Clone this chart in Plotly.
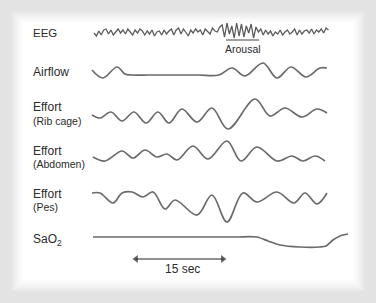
import plotly.graph_objects as go

# ---------------------------------------------------------------
# Polysomnography excerpt: obstructive event terminated by arousal
# time in seconds, amplitudes in arbitrary units (positive = up)
# ---------------------------------------------------------------

# EEG: evenly sampled
eeg_t0 = 0.16
eeg_dt = 0.39
eeg_amp = [0, -3, 2, -2, 3, 4, -1, 3, -2, 1, 4, 0, 3, -1, 4, 1, -2, 3, 0, 4,
           2, -2, 2, -1, 3, -3, 1, 2, -2, 3, -1, 2, 4, -2, 3, 5, -1, 4, 1, -3,
           3, 0, 4, 1, 3, -2, 4, 1, -1, 5, 2, 1, 6,
           8, -4, 10, -1, 7, -5, 10, -3, 9, -4, 7, 0, 9, -5, 6,
           1, 4, -2, 3, -1, 2, -3, 1, -1, 3, -2, 1, 3, -1, 1, 4, -2, 3, -1, 2,
           3, 0, 4, -1, 3, 1, 4, 0, 5, 3]

airflow_t = [-0.16, 1.61, 3.87, 5.16, 6.2, 9.0, 13.0, 17.0, 20.3, 22.42,
             24.52, 27.42, 29.68, 31.94, 34.35, 36.61, 37.74]
airflow_amp = [5, -3, 8, 1, 0, 0, 0, 0, 0, 7, -1, 12, -3, 8, -2, 7, 7]

rib_t = [-0.16, 1.13, 2.90, 4.68, 6.61, 8.55, 10.48, 12.26, 14.35, 16.77,
         19.19, 21.77, 26.13, 28.55, 30.97, 33.71, 36.13, 37.74]
rib_amp = [0, -3, 3, -6, 3, -8, 3, -8, 6, -7, 7, -14, 16, -1, 7, -2, 6, 2]

abd_t = [0.0, 1.94, 4.68, 6.45, 8.39, 10.32, 11.94, 13.55, 16.13, 18.55,
         21.61, 23.87, 26.45, 29.68, 32.10, 33.87, 35.81, 37.42]
abd_amp = [0, -4, 6, -1, 7, 0, 3, -3, 11, -2, 16, -4, 10, -4, 1, -4, 1, -4]

pes_t = [-0.16, 1.13, 3.23, 4.7, 6.3, 8.06, 9.68, 11.61, 13.23,
         16.77, 19.19, 21.61, 24.19, 26.45, 29.68, 32.42, 34.19, 36.13, 37.74]
pes_amp = [0, 0, -10, 0, 1, -4, 1, -16, -7, -22, -2, -29, 0, -9, 1, -10, 0, -11, 0]

sao2_t = [0.0, 6.0, 12.0, 18.0, 23.0, 26.45, 28.23, 30.16, 33.39, 36.61,
          37.58, 38.71, 39.84, 41.13]
sao2_amp = [0, 0, 0, 0, 0, 0, -4, -8, -10, -10, -9, -3, 1, 3]

arousal_span = [21.45, 26.8]      # seconds
scale_start, scale_len = 6.45, 15  # 15 s calibration bar

# ---------------------------------------------------------------
# layout constants (vertical lane centres, top-down)
# ---------------------------------------------------------------
W, H = 376, 303
T_MIN, T_MAX = -15.0, 45.65
LANES = dict(eeg=33, air=75, rib=115, abd=157, pes=193, sao2=237)
LINE = "#6a6a6a"
TXT = "#2b2b2b"
FONT = "Liberation Sans, Arial, sans-serif"

eeg_t = [eeg_t0 + eeg_dt * i for i in range(len(eeg_amp))]

fig = go.Figure()


def add_channel(t, amp, lane, shape="spline", width=1.7, smoothing=1.0, color=LINE):
    y = [lane - a for a in amp]
    line = dict(color=color, width=width, shape=shape)
    if shape == "spline":
        line["smoothing"] = smoothing
    fig.add_trace(go.Scatter(x=list(t), y=y, mode="lines", line=line,
                             hoverinfo="skip", showlegend=False))


add_channel(eeg_t, eeg_amp, LANES["eeg"], shape="linear", width=1.3, color="#5c5c5c")
add_channel(airflow_t, airflow_amp, LANES["air"])
add_channel(rib_t, rib_amp, LANES["rib"])
add_channel(abd_t, abd_amp, LANES["abd"])
add_channel(pes_t, pes_amp, LANES["pes"])
add_channel(sao2_t, sao2_amp, LANES["sao2"], smoothing=0.8)

# ---------------------------------------------------------------
# channel labels
# ---------------------------------------------------------------
LX = -10.0
labels = [
    ("EEG", LANES["eeg"], 11.5),
    ("Airflow", 72, 12),
    ("Effort", 107, 12), ("(Rib cage)", 121, 10.5),
    ("Effort", 151, 12), ("(Abdomen)", 164, 10.5),
    ("Effort", 194, 12), ("(Pes)", 207, 10.5),
    ("SaO<sub>2</sub>", 240, 12),
]
for text, y, size in labels:
    fig.add_annotation(x=LX, y=y, text=text, showarrow=False,
                       xanchor="left", yanchor="middle",
                       font=dict(family=FONT, size=size, color=TXT))

# arousal marker
fig.add_shape(type="line", x0=arousal_span[0], x1=arousal_span[1], y0=40, y1=40,
              line=dict(color="#444444", width=1))
fig.add_annotation(x=sum(arousal_span) / 2, y=49, text="Arousal", showarrow=False,
                   xanchor="center", yanchor="middle",
                   font=dict(family=FONT, size=10.5, color=TXT))

# 15 s time scale: shaft with arrowheads at both ends
scale_end = scale_start + scale_len
fig.add_trace(go.Scatter(x=[scale_start + 0.4, scale_end - 0.4], y=[259, 259],
                         mode="lines", line=dict(color="#222222", width=1.1),
                         hoverinfo="skip", showlegend=False))
fig.add_trace(go.Scatter(x=[scale_start + 0.5, scale_end - 0.5], y=[259, 259],
                         mode="markers",
                         marker=dict(symbol=["triangle-left", "triangle-right"],
                                     size=[7, 7], color="#222222",
                                     line=dict(width=0)),
                         hoverinfo="skip", showlegend=False))
fig.add_annotation(x=scale_start + scale_len / 2 + 0.5, y=269, text="15 sec",
                   showarrow=False, xanchor="center", yanchor="middle",
                   font=dict(family=FONT, size=12, color=TXT))

# ---------------------------------------------------------------
# soft white panel on grey frame
# ---------------------------------------------------------------
frame = ["#e7e7e7", "#ececec", "#f1f1f1", "#f5f5f5", "#f9f9f9", "#fcfcfc", "#ffffff"]
x0, y0, x1, y1 = 9, 9, 367, 294  # outermost ring (px)
for i, c in enumerate(frame):
    d = 2 * (i + 1)
    fig.add_shape(type="rect", xref="paper", yref="paper", layer="below",
                  x0=(x0 + d) / W, x1=(x1 - d) / W,
                  y0=1 - (y1 - d) / H, y1=1 - (y0 + d) / H,
                  line=dict(width=0), fillcolor=c)

fig.update_layout(
    width=W, height=H,
    margin=dict(l=0, r=0, t=0, b=0),
    paper_bgcolor="#e3e3e3",
    plot_bgcolor="rgba(0,0,0,0)",
    xaxis=dict(range=[T_MIN, T_MAX], visible=False, fixedrange=True),
    yaxis=dict(range=[H, 0], visible=False, fixedrange=True),
    showlegend=False,
)

fig.write_html("out.html", config={"displayModeBar": False})
